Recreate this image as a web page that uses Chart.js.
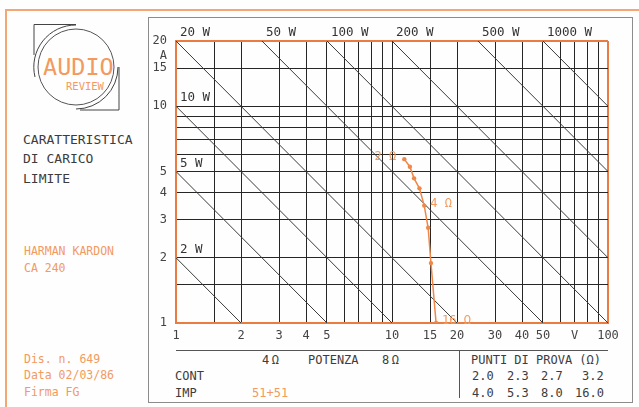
<!DOCTYPE html>
<html><head><meta charset="utf-8">
<title>Caratteristica di carico limite</title>
<script src="https://cdn.jsdelivr.net/npm/chart.js@4.4.1/dist/chart.umd.min.js"></script>
<style>
html,body{margin:0;padding:0;background:#fff;}
#wrap{position:relative;width:639px;height:407px;overflow:hidden;background:#fefefe;}
#c{position:absolute;left:0;top:0;}
.ln{position:absolute;box-sizing:border-box;}
.t{position:absolute;font-family:"DejaVu Sans Mono",monospace;white-space:pre;line-height:1;}
.k{color:#3c3c3c;}
.o{color:#f29a5f;}
</style></head><body>
<div id="wrap">
  <div class="ln" style="left:5px;top:9px;width:634px;height:2px;background:#f2a774"></div>
  <div class="ln" style="left:5px;top:9px;width:2px;height:398px;background:#f2a774"></div>
  <div class="ln" style="left:148px;top:17px;width:485px;height:386px;border:1px solid #8c8c8c"></div>
  <div class="ln" style="left:176px;top:350px;width:432px;height:1px;background:#555"></div>
  <div class="ln" style="left:459px;top:351px;width:1px;height:47px;background:#555"></div>

  <svg style="position:absolute;left:0;top:0" width="150" height="125" viewBox="0 0 150 125">
    <circle cx="76" cy="67" r="38" fill="none" stroke="#555" stroke-width="1"/>
    <path d="M34 55 L34 24.5 L76 24.5" fill="none" stroke="#444" stroke-width="1"/>
    <path d="M76 25 A 42 42 0 0 0 35 77" fill="none" stroke="#444" stroke-width="1"/>
    <path d="M119 67 L119 110 L80 110" fill="none" stroke="#444" stroke-width="1"/>
    <path d="M76 109 A 42 42 0 0 0 118 67" fill="none" stroke="#444" stroke-width="1"/>
    <text x="43" y="75" font-family="DejaVu Sans Mono" font-size="23.5" fill="#f29a5f">AUDIO</text>
    <text x="66" y="90" font-family="DejaVu Sans Mono" font-size="10.5" fill="#f29a5f">REVIEW</text>
  </svg>

  <div class="t k" style="left:23px;top:132.5px;font-size:13px">CARATTERISTICA</div>
  <div class="t k" style="left:23px;top:152px;font-size:13px">DI CARICO</div>
  <div class="t k" style="left:23px;top:171.5px;font-size:13px">LIMITE</div>

  <div class="t o" style="left:24px;top:246.3px;font-size:11.5px">HARMAN KARDON</div>
  <div class="t o" style="left:24px;top:263px;font-size:11.5px">CA 240</div>
  <div class="t o" style="left:24px;top:353.5px;font-size:11.5px">Dis. n. 649</div>
  <div class="t o" style="left:24px;top:370.3px;font-size:11.5px">Data 02/03/86</div>
  <div class="t o" style="left:24px;top:387px;font-size:11.5px">Firma FG</div>

  <div class="t k" style="left:262px;top:354.2px;font-size:12px;letter-spacing:2.5px">4Ω</div>
  <div class="t k" style="left:308px;top:354.2px;font-size:12px">POTENZA</div>
  <div class="t k" style="left:382px;top:354.2px;font-size:12px;letter-spacing:2.5px">8Ω</div>
  <div class="t k" style="left:175px;top:369.5px;font-size:12px">CONT</div>
  <div class="t k" style="left:175px;top:386.7px;font-size:12px">IMP</div>
  <div class="t o" style="left:252px;top:386.7px;font-size:12px">51+51</div>

  <div class="t k" style="left:471px;top:354.2px;font-size:12px">PUNTI DI PROVA (Ω)</div>
  <div class="t k" style="left:472px;top:370px;font-size:12px">2.0</div>
  <div class="t k" style="left:507px;top:370px;font-size:12px">2.3</div>
  <div class="t k" style="left:541px;top:370px;font-size:12px">2.7</div>
  <div class="t k" style="left:582px;top:370px;font-size:12px">3.2</div>
  <div class="t k" style="left:472px;top:387px;font-size:12px">4.0</div>
  <div class="t k" style="left:507px;top:387px;font-size:12px">5.3</div>
  <div class="t k" style="left:541px;top:387px;font-size:12px">8.0</div>
  <div class="t k" style="left:575px;top:387px;font-size:12px">16.0</div>

  <canvas id="c" width="639" height="407"></canvas>
</div>
<script>
// ---- data ----
const xTickValues = [1, 1.5, 2, 3, 4, 5, 6, 7, 8, 9, 10, 15, 20, 30, 40, 50, 60, 70, 80, 90, 100];
const xTickLabels = ['1', '', '2', '3', '4', '5', '', '', '', '', '10', '15', '20', '30', '40', '50', '', 'V', '', '', '100'];
const yTickValues = [1, 1.5, 2, 3, 4, 5, 6, 7, 8, 9, 10, 15, 20];
const yTickLabels = ['1', '', '2', '3', '4', '5', '', '', '', '', '10', '15', '20'];
const yUnit = 'A';

// constant-power lines (W): start and end points (V, A)
const powerLabels = ['2 W', '5 W', '10 W', '20 W', '50 W', '100 W', '200 W', '500 W', '1000 W'];
const powerStartV = [1, 1, 1, 1, 2.5, 5, 10, 25, 50];
const powerStartI = [2, 5, 10, 20, 20, 20, 20, 20, 20];
const powerEndV   = [2, 5, 10, 20, 50, 100, 100, 100, 100];
const powerEndI   = [1, 1, 1, 1, 1, 1, 2, 5, 10];

// measured load curve (test impedances 2 ... 16 ohm)
const testV = [11.4, 12.1, 12.65, 13.4, 14.1, 14.7, 15.15, 16.0];
const testI = [5.7, 5.26, 4.65, 4.18, 3.48, 2.75, 1.89, 1.0];
const testLabels = ['2 Ω', '', '', '', '4 Ω', '', '', '16 Ω'];

// ---- styles ----
const ORANGE = '#ea7c42';
const CURVE = '#ef8848';
const TXT_OR = '#f29a5f';
const GRID = '#262626';
const FONT = '"DejaVu Sans Mono", monospace';

const datasets = [];
datasets.push({
  label: 'curve',
  data: testV.map((v, i) => ({x: v, y: testI[i]})),
  showLine: true,
  borderColor: CURVE,
  backgroundColor: CURVE,
  borderWidth: 1.5,
  pointRadius: 2.2,
  pointBorderWidth: 0,
  pointBackgroundColor: CURVE
});
powerLabels.forEach((lab, i) => {
  datasets.push({
    label: lab,
    data: [{x: powerStartV[i], y: powerStartI[i]}, {x: powerEndV[i], y: powerEndI[i]}],
    showLine: true,
    borderColor: '#3a3a3a',
    borderWidth: 1,
    pointRadius: 0
  });
});

const overlay = {
  id: 'overlay',
  afterDatasetsDraw(chart) {
    const {ctx, scales: {x, y}} = chart;
    ctx.save();
    ctx.textBaseline = 'middle';
    ctx.font = '12.5px ' + FONT;
    ctx.fillStyle = '#333';
    ctx.textAlign = 'left';
    powerLabels.forEach((lab, i) => {
      const px = x.getPixelForValue(powerStartV[i]);
      const py = y.getPixelForValue(powerStartI[i]);
      ctx.fillText(lab, px + 4, py - 8);
    });
    ctx.font = '12px ' + FONT;
    ctx.fillStyle = '#444';
    ctx.textAlign = 'right';
    const uy = (y.getPixelForValue(15) + y.getPixelForValue(20)) / 2 + 1;
    ctx.fillText(yUnit, x.left - 9, uy);
    ctx.fillStyle = TXT_OR;
    testLabels.forEach((lab, i) => {
      if (!lab) return;
      const px = x.getPixelForValue(testV[i]);
      const py = y.getPixelForValue(testI[i]);
      if (i === 0) { ctx.textAlign = 'right'; ctx.fillText(lab, px - 8, py - 2); }
      else { ctx.textAlign = 'left'; ctx.fillText(lab, px + 6, py - 2); }
    });
    ctx.restore();
  }
};

function gridColor(min, max) {
  return ctx => (ctx.tick && (ctx.tick.value === min || ctx.tick.value === max)) ? ORANGE : GRID;
}
function gridWidth(min, max) {
  return ctx => (ctx.tick && (ctx.tick.value === min || ctx.tick.value === max)) ? 2 : 1;
}

new Chart(document.getElementById('c'), {
  type: 'scatter',
  data: {datasets},
  options: {
    responsive: false,
    animation: false,
    devicePixelRatio: 1,
    layout: {padding: {top: 41, right: 31, left: 0, bottom: 0}},
    plugins: {legend: {display: false}, tooltip: {enabled: false}},
    scales: {
      x: {
        type: 'logarithmic', min: 1, max: 100, position: 'bottom',
        afterBuildTicks: s => { s.ticks = xTickValues.map(v => ({value: v})); },
        afterFit: s => { s.height = 84; },
        ticks: {
          autoSkip: false, maxRotation: 0, minRotation: 0, padding: 6,
          color: '#444', font: {family: FONT, size: 12},
          callback: (v, i) => xTickLabels[i]
        },
        grid: {color: gridColor(1, 100), lineWidth: gridWidth(1, 100), drawTicks: false},
        border: {color: ORANGE, width: 2}
      },
      y: {
        type: 'logarithmic', min: 1, max: 20, position: 'left',
        afterBuildTicks: s => { s.ticks = yTickValues.map(v => ({value: v})); },
        afterFit: s => { s.width = 176; },
        ticks: {
          autoSkip: false, padding: 9,
          color: '#444', font: {family: FONT, size: 12},
          callback: (v, i) => yTickLabels[i]
        },
        grid: {color: gridColor(1, 20), lineWidth: gridWidth(1, 20), drawTicks: false},
        border: {color: ORANGE, width: 2}
      }
    }
  },
  plugins: [overlay]
});
</script>
</body></html>
